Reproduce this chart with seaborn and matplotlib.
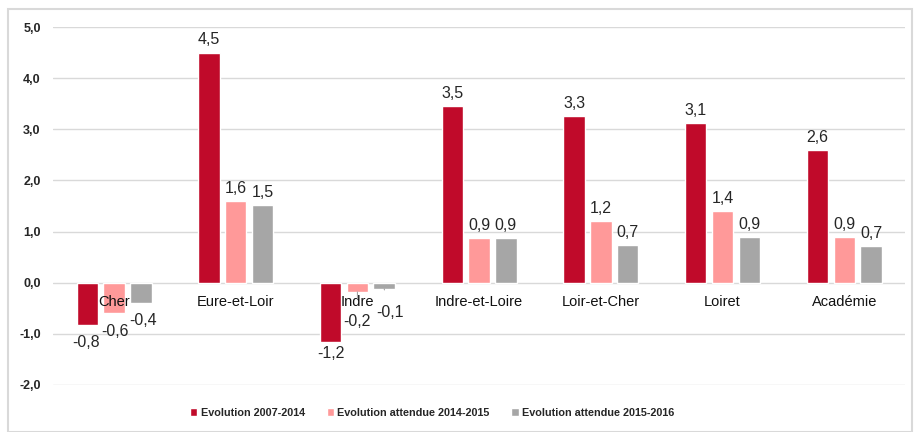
import matplotlib
matplotlib.use("Agg")
import matplotlib.pyplot as plt
import seaborn as sns
import pandas as pd
from matplotlib.patches import Rectangle

# Data
departements = ['Cher', 'Eure-et-Loir', 'Indre', 'Indre-et-Loire', 'Loir-et-Cher', 'Loiret', 'Académie']
series_names = ['Evolution 2007-2014', 'Evolution attendue 2014-2015', 'Evolution attendue 2015-2016']
evol_2007_2014 = [-0.83, 4.5, -1.16, 3.46, 3.26, 3.12, 2.6]
evol_2014_2015 = [-0.6, 1.6, -0.18, 0.87, 1.2, 1.4, 0.9]
evol_2015_2016 = [-0.4, 1.51, -0.12, 0.88, 0.73, 0.9, 0.72]
colors = ['#C00A2A', '#FF9999', '#A6A6A6']

df = pd.DataFrame({
    'dep': departements * 3,
    'serie': [s for s in series_names for _ in departements],
    'val': evol_2007_2014 + evol_2014_2015 + evol_2015_2016,
})

sns.set_style('white')
plt.rcParams['font.family'] = ['Liberation Sans', 'DejaVu Sans']

fig = plt.figure(figsize=(9.17, 4.32), dpi=100)
ax = fig.add_axes([0.058, 0.109, 0.929, 0.8285])

sns.barplot(data=df, x='dep', y='val', hue='serie', order=departements,
            hue_order=series_names, palette=colors, width=0.66, gap=0.2,
            saturation=1, ax=ax, legend=True)

ax.set_ylim(-2, 5)
ax.set_xlim(-0.5, len(departements) - 0.5)
ax.set_yticks([-2, -1, 0, 1, 2, 3, 4, 5])
ax.set_yticklabels([f'{v:.1f}'.replace('.', ',') for v in ax.get_yticks()],
                   fontsize=9, fontweight='bold')
ax.tick_params(axis='y', length=0, pad=9)
ax.set_xticks([])
ax.set_xlabel('')
ax.set_ylabel('')
ax.grid(axis='y', color='#D9D9D9', linewidth=1)
ax.set_axisbelow(True)
for s in ax.spines.values():
    s.set_visible(False)

# category names just below the zero line
for i, d in enumerate(departements):
    ax.text(i, -0.37, d, ha='center', va='center', fontsize=10.5, color='#111111')

# value labels, the crowded ones moved by hand like the original
lead = dict(arrowstyle='-', color='#A6A6A6', lw=0.8, shrinkA=9, shrinkB=0)
for si, cont in enumerate(ax.containers):
    for di, bar in enumerate(cont):
        v = bar.get_height()
        xc = bar.get_x() + bar.get_width() / 2
        txt = f'{v:.1f}'.replace('.', ',')
        if (di, si) == (0, 0):
            ax.text(xc - 0.01, -1.18, txt, ha='center', va='center', fontsize=11.5)
        elif (di, si) == (0, 1):
            ax.text(xc + 0.01, -0.96, txt, ha='center', va='center', fontsize=11.5)
        elif (di, si) == (0, 2):
            ax.text(xc + 0.02, -0.74, txt, ha='center', va='center', fontsize=11.5)
        elif (di, si) == (2, 1):
            ax.annotate(txt, xy=(xc, v), xytext=(xc + 0.0, -0.76), ha='center', va='center',
                        fontsize=11.5, arrowprops=lead)
        elif (di, si) == (2, 2):
            ax.annotate(txt, xy=(xc, v), xytext=(xc + 0.05, -0.59), ha='center', va='center',
                        fontsize=11.5, arrowprops=lead)
        elif v < 0:
            ax.text(xc, v - 0.07, txt, ha='center', va='top', fontsize=11.5)
        else:
            ax.text(xc, v + 0.1, txt, ha='center', va='bottom', fontsize=11.5)

leg = ax.legend(loc='center', bbox_to_anchor=(0.445, -0.078), ncol=3, frameon=False,
                handlelength=0.7, handleheight=0.7, handletextpad=0.3, columnspacing=2.0,
                prop={'weight': 'bold', 'size': 7.8})

# light frame around the whole chart
fig.patches.append(Rectangle((0.009, 0.0), 0.986, 0.98, transform=fig.transFigure,
                             fill=False, edgecolor='#D9D9D9', linewidth=1.5))

fig.savefig('out.png', dpi=100)
